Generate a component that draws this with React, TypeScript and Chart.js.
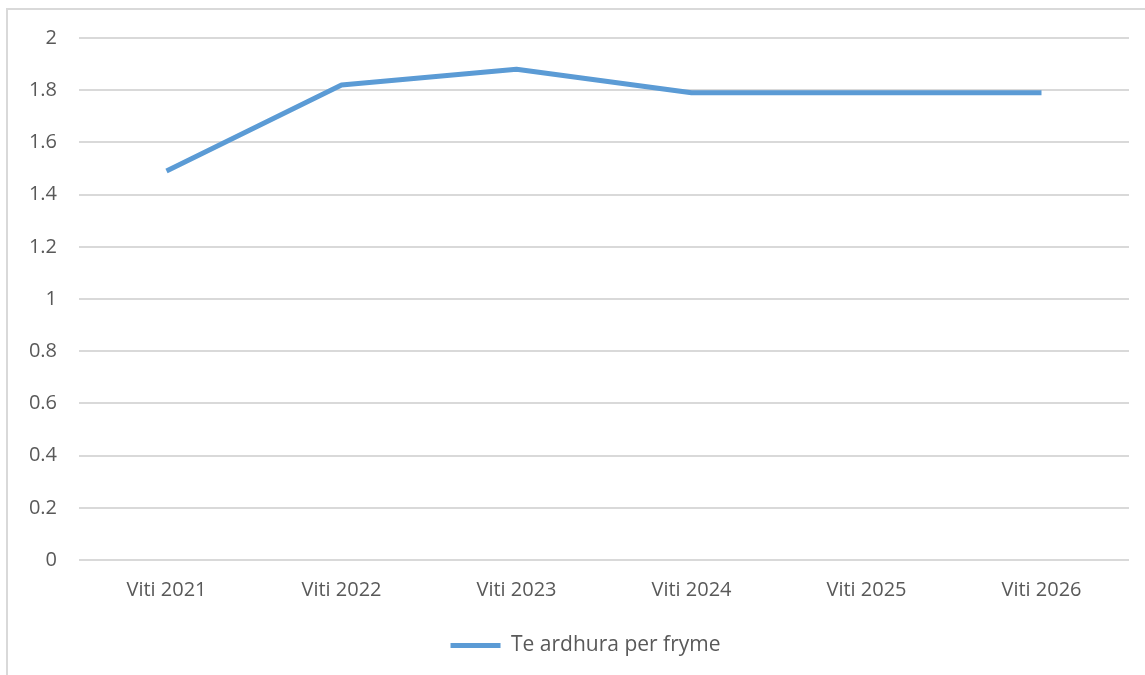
import React, { useEffect, useRef } from "react";
import { Chart, registerables } from "chart.js";

Chart.register(...registerables);

const categories = ["Viti 2021", "Viti 2022", "Viti 2023", "Viti 2024", "Viti 2025", "Viti 2026"];
const seriesName = "Te ardhura per fryme";
const seriesValues = [1.49, 1.82, 1.88, 1.79, 1.79, 1.79];
const yMin = 0;
const yMax = 2;
const yStep = 0.2;

const FONT = "'Open Sans', 'DejaVu Sans', sans-serif";
const TEXT = "#595959";
const GRID = "#d9d9d9";
const LINE = "#5b9bd5";

const legendShift = {
  id: "legendShift",
  afterLayout(chart: any) {
    const lg = chart.legend;
    if (lg) {
      lg.left += 21;
      lg.right += 21;
    }
  },
};

export default function App() {
  const ref = useRef<HTMLCanvasElement | null>(null);

  useEffect(() => {
    if (!ref.current) return;
    const chart = new Chart(ref.current, {
      type: "line",
      data: {
        labels: categories,
        datasets: [
          {
            label: seriesName,
            data: seriesValues,
            borderColor: LINE,
            backgroundColor: LINE,
            borderWidth: 5,
            pointRadius: 0,
            pointHoverRadius: 0,
            tension: 0,
            fill: false,
            borderJoinStyle: "round",
          },
        ],
      },
      plugins: [legendShift],
      options: {
        animation: false,
        responsive: false,
        maintainAspectRatio: false,
        layout: { padding: { left: 0, right: 16, top: 38, bottom: 9 } },
        plugins: {
          tooltip: { enabled: false },
          legend: {
            position: "bottom",
            labels: {
              color: TEXT,
              font: { family: FONT, size: 21 },
              boxWidth: 50,
              boxHeight: 5,
              padding: 10,
              generateLabels: (c: any) => {
                const items = Chart.defaults.plugins.legend.labels.generateLabels(c);
                return items.map((it: any) => ({ ...it, lineWidth: 0, fillStyle: LINE, strokeStyle: LINE }));
              },
            },
          },
        },
        scales: {
          x: {
            offset: true,
            grid: { display: false, drawTicks: false },
            border: { display: false },
            ticks: { color: TEXT, font: { family: FONT, size: 20 }, padding: 18, maxRotation: 0 },
            afterFit: (s: any) => {
              s.height = 65;
            },
          },
          y: {
            min: yMin,
            max: yMax,
            grid: { color: GRID, lineWidth: 2, drawTicks: false },
            border: { display: false },
            ticks: {
              stepSize: yStep,
              color: TEXT,
              font: { family: FONT, size: 20 },
              padding: 22,
              callback: (v: any) => String(Number(Number(v).toFixed(1))),
            },
            afterFit: (s: any) => {
              s.width = 79;
            },
          },
        },
      },
    });
    return () => chart.destroy();
  }, []);

  return (
    <div style={{ position: "fixed", left: 0, top: 0, width: 1145, height: 675, background: "#fff", overflow: "hidden" }}>
      <div
        style={{
          position: "absolute",
          left: 6,
          top: 8,
          width: 1200,
          height: 720,
          border: `2px solid ${GRID}`,
          boxSizing: "border-box",
        }}
      />
      <canvas ref={ref} width={1145} height={675} style={{ position: "absolute", left: 0, top: 0 }} />
    </div>
  );
}
